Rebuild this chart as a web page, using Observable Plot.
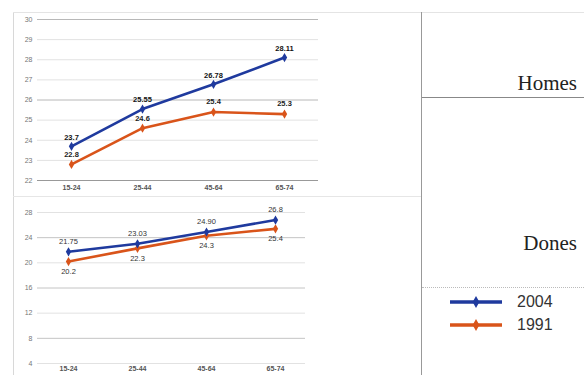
<!DOCTYPE html>
<html>
<head>
<meta charset="utf-8">
<script src="https://cdn.jsdelivr.net/npm/d3@7"></script>
<script src="https://cdn.jsdelivr.net/npm/@observablehq/plot@0.6"></script>
<style>
  html, body { margin: 0; padding: 0; background: #fff; }
  #page { position: relative; width: 584px; height: 375px; overflow: hidden; background: #fff; font-family: "Liberation Sans", Arial, sans-serif; }
  .abs { position: absolute; }
  .title { position: absolute; font-family: "Liberation Serif", "DejaVu Serif", serif; font-size: 21px; color: #222; text-align: right; right: 7px; }
  .legtext { position: absolute; font-family: "Liberation Sans", Arial, sans-serif; font-size: 16px; color: #333; }
</style>
</head>
<body>
<div id="page">
  <div class="abs" style="left:13px;top:12px;width:1px;height:363px;background:#d8d8d8"></div>
  <div class="abs" style="left:13px;top:12px;width:571px;height:1px;background:#e4e4e4"></div>
  <div class="abs" style="left:13px;top:196px;width:409px;height:1px;background:#e6e6e6"></div>
  <div id="top" class="abs" style="left:0;top:0"></div>
  <div id="bottom" class="abs" style="left:0;top:196px"></div>
  <div class="abs" style="left:421px;top:12px;width:1px;height:363px;background:#999"></div>
  <div class="abs" style="left:422px;top:97px;width:162px;height:1px;background:#888"></div>
  <div class="abs" style="left:422px;top:287px;width:162px;height:0;border-top:1px dotted #bbb"></div>
  <div class="title" style="top:71px">Homes</div>
  <div class="title" style="top:231px">Dones</div>
  <svg id="legend" class="abs" style="left:440px;top:290px" width="70" height="45"></svg>
  <div class="legtext" style="left:517px;top:293px">2004</div>
  <div class="legtext" style="left:517px;top:316px">1991</div>
</div>
<script>
const ages = ["15-24", "25-44", "45-64", "65-74"];
const series = ["2004", "1991"];
const seriesColors = ["#1f3a9e", "#d9541a"];

const homes2004 = [23.7, 25.55, 26.78, 28.11];
const homes1991 = [22.8, 24.6, 25.4, 25.3];
const dones2004 = [21.75, 23.03, 24.9, 26.8];
const dones1991 = [20.2, 22.3, 24.3, 25.4];

const homesTicks = [22, 23, 24, 25, 26, 27, 28, 29, 30];
const donesTicks = [4, 8, 12, 16, 20, 24, 28];

const homesLabels2004 = ["23.7", "25.55", "26.78", "28.11"];
const homesLabels1991 = ["22.8", "24.6", "25.4", "25.3"];
const donesLabels2004 = ["21.75", "23.03", "24.90", "26.8"];
const donesLabels1991 = ["20.2", "22.3", "24.3", "25.4"];

function rows(vals, labels, s) {
  return ages.map((a, i) => ({age: a, value: vals[i], label: labels[i], series: s}));
}

const color = {domain: series, range: seriesColors};

// Top panel: Homes
const hA = rows(homes2004, homesLabels2004, "2004");
const hB = rows(homes1991, homesLabels1991, "1991");
const topPlot = Plot.plot({
  width: 320, height: 196,
  marginLeft: 37, marginRight: 2, marginTop: 19, marginBottom: 16,
  style: {background: "transparent", fontFamily: "Liberation Sans, Arial, sans-serif"},
  x: {type: "point", domain: ages, padding: 0.46},
  y: {domain: [22, 30]},
  color,
  marks: [
    Plot.gridY(homesTicks, {stroke: d => (d % 4 === 2 ? "#b8b8b8" : "#e2e2e2"), strokeOpacity: 1}),
    Plot.ruleY([22], {stroke: "#999"}),
    Plot.axisY(homesTicks, {tickSize: 0, tickPadding: 5, fontSize: 7, fill: "#777", label: null}),
    Plot.axisX({tickSize: 0, tickPadding: 5, fontSize: 7, fill: "#555", label: null, fontWeight: "bold"}),
    Plot.line(hB, {x: "age", y: "value", stroke: "series", strokeWidth: 2.6}),
    Plot.line(hA, {x: "age", y: "value", stroke: "series", strokeWidth: 2.6}),
    Plot.dot(hB, {x: "age", y: "value", fill: "series", symbol: "diamond", r: 2.8}),
    Plot.dot(hA, {x: "age", y: "value", fill: "series", symbol: "diamond", r: 2.8}),
    Plot.text(hA, {x: "age", y: "value", text: "label", dy: -9, fontSize: 7.5, fontWeight: "bold", fill: "#111"}),
    Plot.text(hB, {x: "age", y: "value", text: "label", dy: -10, fontSize: 7.5, fontWeight: "bold", fill: "#222"})
  ]
});
document.getElementById("top").appendChild(topPlot);

// Bottom panel: Dones
const dA = rows(dones2004, donesLabels2004, "2004");
const dB = rows(dones1991, donesLabels1991, "1991");
const bottomPlot = Plot.plot({
  width: 310, height: 179,
  marginLeft: 37, marginRight: 5, marginTop: 16, marginBottom: 12,
  style: {background: "transparent", fontFamily: "Liberation Sans, Arial, sans-serif"},
  x: {type: "point", domain: ages, padding: 0.44},
  y: {domain: [4, 28]},
  color,
  marks: [
    Plot.gridY(donesTicks, {stroke: d => (d % 8 === 0 ? "#c4c4c4" : "#e2e2e2"), strokeOpacity: 1}),
    Plot.axisY(donesTicks, {tickSize: 0, tickPadding: 5, fontSize: 7, fill: "#777", label: null}),
    Plot.axisX({tickSize: 0, tickPadding: 3, fontSize: 7, fill: "#555", label: null, fontWeight: "bold"}),
    Plot.line(dB, {x: "age", y: "value", stroke: "series", strokeWidth: 2.6}),
    Plot.line(dA, {x: "age", y: "value", stroke: "series", strokeWidth: 2.6}),
    Plot.dot(dB, {x: "age", y: "value", fill: "series", symbol: "diamond", r: 2.8}),
    Plot.dot(dA, {x: "age", y: "value", fill: "series", symbol: "diamond", r: 2.8}),
    Plot.text(dA, {x: "age", y: "value", text: "label", dy: -10, fontSize: 7.5, fill: "#333"}),
    Plot.text(dB, {x: "age", y: "value", text: "label", dy: 10, fontSize: 7.5, fill: "#333"})
  ]
});
document.getElementById("bottom").appendChild(bottomPlot);

// Legend
const leg = d3.select("#legend");
series.forEach((s, i) => {
  const y = 12 + i * 23;
  leg.append("line").attr("x1", 10).attr("x2", 62).attr("y1", y).attr("y2", y)
    .attr("stroke", seriesColors[i]).attr("stroke-width", 3.5);
  leg.append("path").attr("d", d3.symbol(d3.symbolDiamond, 40)())
    .attr("transform", `translate(36,${y})`).attr("fill", seriesColors[i]);
});
</script>
</body>
</html>
